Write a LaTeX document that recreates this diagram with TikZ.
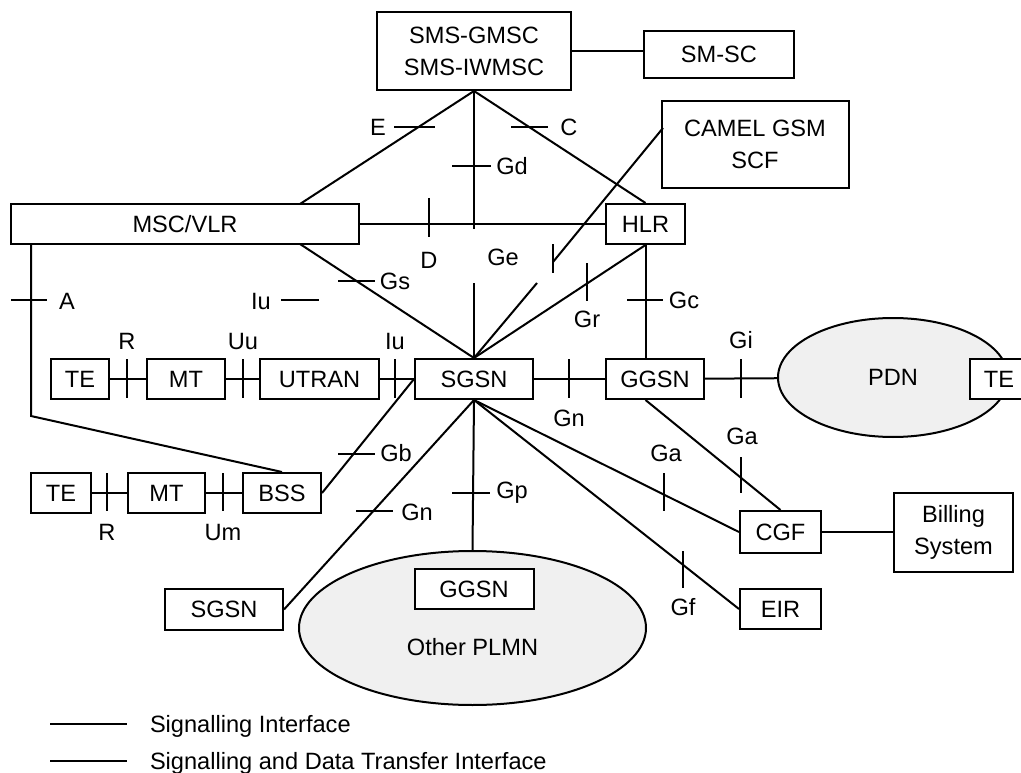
\documentclass[tikz,border=0pt]{standalone}
\usepackage{fontspec}
\setmainfont{Liberation Sans}
\usetikzlibrary{shapes}

\begin{document}
\begin{tikzpicture}[x=1pt,y=-1pt,line width=2pt]
	\tikzset{every node/.style={font=\fontsize{23.6}{32}\selectfont,inner sep=0pt}}
	\tikzset{box/.style={draw,fill=white,align=center,minimum height=40}}
	\tikzset{cloud/.style={ellipse,draw,fill=black!6}}
	\clip (0,0) rectangle (1021,773);
	\node[box,minimum width=194,minimum height=78] (sms) at (474,51) {SMS-GMSC\\SMS-IWMSC};
	\node[box,minimum width=150,minimum height=47] (smsc) at (719,54.5) {SM-SC};
	\node[box,minimum width=187,minimum height=87] (camel) at (755,144.5) {CAMEL GSM\\SCF};
	\node[box,minimum width=348] (msc) at (185,224) {MSC/VLR};
	\node[box,minimum width=79] (hlr) at (645.5,224) {HLR};
	\node[box,minimum width=58] (te1) at (80,379) {TE};
	\node[box,minimum width=78] (mt1) at (186,379) {MT};
	\node[box,minimum width=119] (utran) at (319.5,379) {UTRAN};
	\node[box,minimum width=118] (sgsn) at (474,379) {SGSN};
	\node[box,minimum width=98] (ggsn) at (655,379) {GGSN};
	\node[cloud,minimum width=230,minimum height=119] (pdn) at (893,377.5) {PDN};
	\node[box,minimum width=58] (te3) at (999,379) {TE};
	\node[box,minimum width=60] (te2) at (61,493) {TE};
	\node[box,minimum width=77] (mt2) at (166.5,493) {MT};
	\node[box,minimum width=78] (bss) at (282,493) {BSS};
	\node[box,minimum width=118,minimum height=41] (sgsn2) at (224,609.5) {SGSN};
	\node[cloud,minimum width=347,minimum height=154] (plmn) at (472.5,628) {};
	\node (plmnlbl) at (472.5,647) {Other PLMN};
	\node[box,minimum width=119] (ggsn2) at (474,589) {GGSN};
	\node[box,minimum width=81,minimum height=42] (cgf) at (780.5,532) {CGF};
	\node[box,minimum width=119,minimum height=79] (bill) at (953.5,532.5) {Billing\\System};
	\node[box,minimum width=81] (eir) at (780.5,609) {EIR};
	\coordinate (mscne) at (300,204);
	\coordinate (mscse) at (300,244);
	\coordinate (mscsw) at (31,244);
	\coordinate (abend) at (31,416);
	\coordinate (gdcut1) at (474,229);
	\coordinate (gdcut2) at (474,283);
	\coordinate (camelin) at (663,128);
	\coordinate (gecut1) at (553,262);
	\coordinate (gecut2) at (537,283);
	\draw (sms.east) -- (sms.east -| smsc.west);
	\draw (sms.south) -- (mscne);
	\draw (sms.south) -- (hlr.north);
	\draw (sms.south) -- (gdcut1);
	\draw (gdcut2) -- (sgsn.north);
	\draw (msc.east) -- (hlr.west);
	\draw (mscse) -- (sgsn.north);
	\draw (mscsw) -- (abend) -- (bss.north);
	\draw (camelin) -- (gecut1);
	\draw (gecut2) -- (sgsn.north);
	\draw (hlr.south) -- (sgsn.north);
	\draw (hlr.south) -- (hlr.south |- ggsn.north);
	\draw (te1) -- (mt1);
	\draw (mt1) -- (utran);
	\draw (utran) -- (sgsn);
	\draw (sgsn) -- (ggsn);
	\draw (ggsn) -- (pdn);
	\draw (te2) -- (mt2);
	\draw (mt2) -- (bss);
	\draw (sgsn.west) -- (bss.east);
	\draw (sgsn.south) -- (sgsn2.east);
	\draw (sgsn.south) -- (plmn.north);
	\draw (sgsn.south) -- (cgf.west);
	\draw (sgsn.south) -- (eir.west);
	\draw (ggsn.south -| hlr.south) -- (cgf.north);
	\draw (cgf.east) -- (cgf.east -| bill.west);
	\foreach \x/\y/\w in {394/127/41, 511/127/37, 452/166/39, 338/281/37, 281/300/38, 11/300/36, 627/300/36, 338/454/37, 356/511/37, 452/493/38}
		\draw (\x,\y) -- ++(\w,0);
	\foreach \x/\y/\h in {429/198/39, 553/244/29, 587/263/38, 127/359/39, 243/359/39, 395/359/39, 569/359/39, 741/359/39, 107/473/38, 223/473/38, 664/473/38, 741/457/36, 683/551/37}
		\draw (\x,\y) -- ++(0,\h);
	\node (lble) at (378,127) {E};
	\node (lblc) at (569,127) {C};
	\node (lblgd) at (512,166) {Gd};
	\node (lbld) at (429,260) {D};
	\node (lblge) at (503,257) {Ge};
	\node (lblgs) at (395,281) {Gs};
	\node (lbliu) at (261,301) {Iu};
	\node (lbla) at (67,301) {A};
	\node (lblr) at (127,341) {R};
	\node (lbluu) at (243,341) {Uu};
	\node (lbliu2) at (395,341) {Iu};
	\node (lblgr) at (587,319) {Gr};
	\node (lblgc) at (684,300) {Gc};
	\node (lblgn) at (569,418) {Gn};
	\node (lblgi) at (741,340) {Gi};
	\node (lblgb) at (396,453) {Gb};
	\node (lblgn2) at (417,512) {Gn};
	\node (lblgp) at (512,493) {Gp};
	\node (lblr2) at (107,532) {R};
	\node (lblum) at (223,532) {Um};
	\node (lblga) at (666,453) {Ga};
	\node (lblga2) at (742,436) {Ga};
	\node (lblgf) at (683,607) {Gf};
	\coordinate (leg1a) at (50,724);
	\coordinate (leg1b) at (127,724);
	\coordinate (leg2a) at (50,761);
	\coordinate (leg2b) at (127,761);
	\draw (leg1a) -- (leg1b);
	\draw (leg2a) -- (leg2b);
	\node[anchor=base west] (leg1) at (149,732.5) {Signalling Interface};
	\node[anchor=base west] (leg2) at (149,769.5) {Signalling and Data Transfer Interface};
\end{tikzpicture}
\end{document}
